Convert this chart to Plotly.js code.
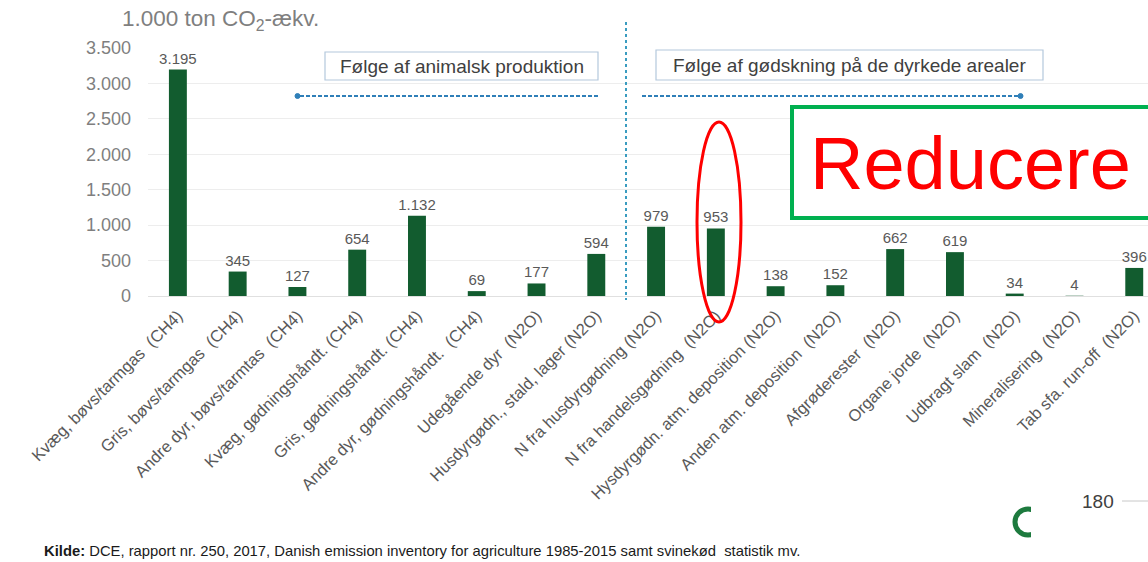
<!DOCTYPE html>
<html>
<head>
<meta charset="utf-8">
<script src="https://cdn.plot.ly/plotly-3.0.1.min.js"></script>
<style>
  html, body { margin: 0; padding: 0; background: #ffffff; }
  #chart { width: 1148px; height: 562px; }
</style>
</head>
<body>
<div id="chart"></div>
<script>
// Emission sources (1.000 ton CO2-ækv.)
const categories = [
  "Kvæg, bøvs/tarmgas  (CH4)",
  "Gris, bøvs/tarmgas  (CH4)",
  "Andre dyr, bøvs/tarmtas  (CH4)",
  "Kvæg, gødningshåndt. (CH4)",
  "Gris, gødningshåndt. (CH4)",
  "Andre dyr, gødningshåndt.  (CH4)",
  "Udegående dyr  (N2O)",
  "Husdyrgødn., stald, lager (N2O)",
  "N fra husdyrgødning (N2O)",
  "N fra handelsgødning  (N2O)",
  "Hysdyrgødn. atm. deposition (N2O)",
  "Anden atm. deposition  (N2O)",
  "Afgrøderester  (N2O)",
  "Organe jorde  (N2O)",
  "Udbragt slam  (N2O)",
  "Mineralisering  (N2O)",
  "Tab sfa. run-off  (N2O)"
];
const emissions = [3195, 345, 127, 654, 1132, 69, 177, 594, 979, 953, 138, 152, 662, 619, 34, 4, 396];
const yTicks = [0, 500, 1000, 1500, 2000, 2500, 3000, 3500];

const unitTitle = "1.000 ton CO<sub>2</sub>-ækv.";
const groupLeft = "Følge af animalsk produktion";
const groupRight = "Følge af gødskning på de dyrkede arealer";
const callout = "Reducere";
const source = "<b>Kilde:</b> DCE, rapport nr. 250, 2017, Danish emission inventory for agriculture 1985-2015 samt svinekød  statistik mv.";

// plot area in page pixels
const L = 148, R = 1148, T = 48, B = 296;
const px = x => (x - L) / (R - L);
const py = y => (B - y) / (B - T);

const FONT = "Liberation Sans, Arial, sans-serif";
const BAR = "#125c2f";

const trace = {
  type: "bar",
  x: categories,
  y: emissions,
  marker: { color: BAR },
  texttemplate: "%{y:,}",
  textposition: "outside",
  constraintext: "none",
  textfont: { family: FONT, size: 15, color: "#595959" },
  cliponaxis: false,
  hoverinfo: "x+y"
};

function line(x0, y0, x1, y1, color, width, dash) {
  return { type: "line", xref: "paper", yref: "paper",
    x0: px(x0), y0: py(y0), x1: px(x1), y1: py(y1),
    line: { color: color, width: width, dash: dash || "solid" } };
}
function rect(x0, y0, x1, y1, color, width, fill) {
  return { type: "rect", xref: "paper", yref: "paper",
    x0: px(x0), y0: py(y0), x1: px(x1), y1: py(y1),
    line: { color: color, width: width }, fillcolor: fill };
}
function ellipse(x0, y0, x1, y1, color, width, fill) {
  return { type: "circle", xref: "paper", yref: "paper",
    x0: px(x0), y0: py(y0), x1: px(x1), y1: py(y1),
    line: { color: color, width: width }, fillcolor: fill || "rgba(0,0,0,0)" };
}
function label(x, y, text, size, color, xanchor, extra) {
  return Object.assign({ xref: "paper", yref: "paper", x: px(x), y: py(y),
    text: text, showarrow: false, xanchor: xanchor || "center", yanchor: "middle",
    font: { family: FONT, size: size, color: color } }, extra || {});
}

const ARROW = "#2f7fb8";
const shapes = [
  // divider between the two groups
  line(626, 22, 626, 300, "#3a9cc0", 2, "3px,3px"),
  // group boxes
  rect(325, 52, 598, 80, "#b4c8dc", 1.2, "#ffffff"),
  rect(656, 50, 1043, 80, "#b4c8dc", 1.2, "#ffffff"),
  // direction arrows
  line(300, 96, 600, 96, ARROW, 2, "4px,2px"),
  ellipse(295, 93.5, 300, 98.5, ARROW, 1, ARROW),
  line(642, 96, 1019, 96, ARROW, 2, "4px,2px"),
  ellipse(1018, 93.5, 1023, 98.5, ARROW, 1, ARROW),
  // highlight around N fra handelsgødning
  ellipse(697, 122, 741, 322, "#ff0000", 3),
  // callout box
  rect(792, 107, 1175, 218, "#00b050", 4, "#ffffff"),
  // logo ring and neighbouring panel
  ellipse(1015, 509, 1041, 535, "#1d7a3e", 5),
  rect(1031, 486, 1160, 570, "rgba(0,0,0,0)", 0, "#ffffff"),
  line(1122, 501, 1148, 501, "#c8c8c8", 1)
];

const annotations = [
  label(120, 20, unitTitle, 22.5, "#7f7f7f", "left"),
  label(461.5, 66, groupLeft, 19, "#404040"),
  label(849.5, 65, groupRight, 19, "#404040"),
  label(970, 163, callout, 74, "#ff0000"),
  label(42, 551, source, 14.8, "#1a1a1a", "left"),
  label(1098, 501, "180", 19, "#404040")
];

const layout = {
  width: 1148, height: 562,
  margin: { l: L, r: 1148 - R, t: T, b: 562 - B, pad: 0 },
  paper_bgcolor: "#ffffff", plot_bgcolor: "#ffffff",
  separators: ",.",
  showlegend: false,
  bargap: 0.7,
  font: { family: FONT },
  xaxis: {
    type: "category",
    range: [-0.5, 16.23],
    tickangle: -45,
    tickfont: { family: FONT, size: 16.5, color: "#595959" },
    ticklabelstandoff: 6,
    showgrid: false, zeroline: false, showline: false, ticks: "",
    fixedrange: true
  },
  yaxis: {
    range: [0, 3500],
    tickvals: yTicks,
    tickformat: ",",
    tickfont: { family: FONT, size: 18, color: "#7f7f7f" },
    ticklabelstandoff: 16,
    gridcolor: "#ededed", gridwidth: 1,
    zeroline: true, zerolinecolor: "#e0e0e0",
    showline: false, ticks: "",
    fixedrange: true
  },
  shapes: shapes,
  annotations: annotations
};

Plotly.newPlot("chart", [trace], layout, { displayModeBar: false, staticPlot: true });
</script>
</body>
</html>
